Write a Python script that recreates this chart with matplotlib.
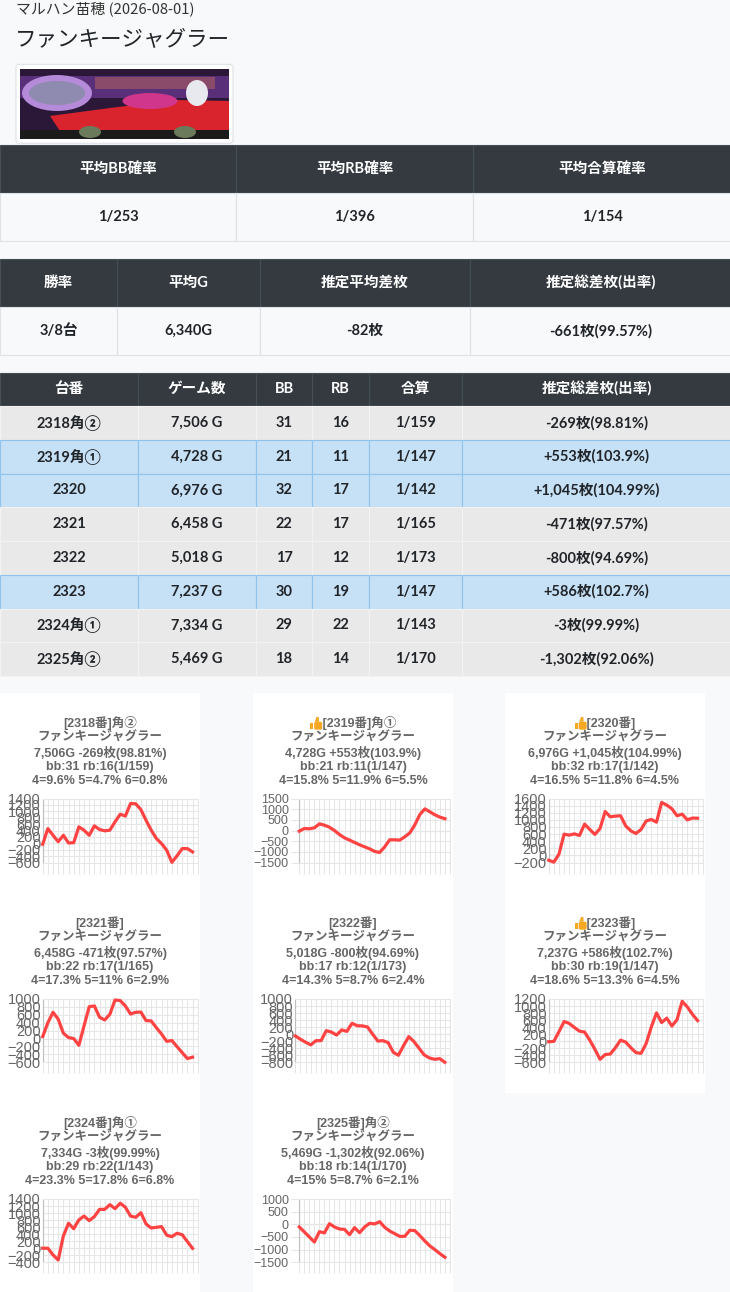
import numpy as np
import matplotlib
matplotlib.use('Agg')
import matplotlib.pyplot as plt
from matplotlib.patches import Rectangle, FancyBboxPatch, Polygon, Ellipse

W, H = 730, 1292
JP = ['Noto Sans CJK JP', 'DejaVu Sans']
TB = ['Lato', 'Noto Sans CJK JP', 'DejaVu Sans']
CH = ['Liberation Sans', 'Noto Sans CJK JP', 'DejaVu Sans']

# ---- data ----
hall_title = 'マルハン苗穂 (2026-08-01)'
machine = 'ファンキージャグラー'

sum1_head = ['平均BB確率', '平均RB確率', '平均合算確率']
sum1_vals = ['1/253', '1/396', '1/154']
sum2_head = ['勝率', '平均G', '推定平均差枚', '推定総差枚(出率)']
sum2_vals = ['3/8台', '6,340G', '-82枚', '-661枚(99.57%)']

tbl_head = ['台番', 'ゲーム数', 'BB', 'RB', '合算', '推定総差枚(出率)']
unit_no = ['2318', '2319', '2320', '2321', '2322', '2323', '2324', '2325']
corner = ['角②', '角①', '', '', '', '', '角①', '角②']
games = [7506, 4728, 6976, 6458, 5018, 7237, 7334, 5469]
bb = [31, 21, 32, 22, 17, 30, 29, 18]
rb = [16, 11, 17, 17, 12, 19, 22, 14]
combined = ['1/159', '1/147', '1/142', '1/165', '1/173', '1/147', '1/143', '1/170']
diff = [-269, 553, 1045, -471, -800, 586, -3, -1302]
payout = ['98.81', '103.9', '104.99', '97.57', '94.69', '102.7', '99.99', '92.06']
set4 = ['9.6', '15.8', '16.5', '17.3', '14.3', '18.6', '23.3', '15']
set5 = ['4.7', '11.9', '11.8', '11', '8.7', '13.3', '17.8', '8.7']
set6 = ['0.8', '5.5', '4.5', '2.9', '2.4', '4.5', '6.8', '2.1']

slump_2318 = [-30, 460, 250, 50, 250, 10, 20, 515, 410, 250, 545, 430, 390, 410, 670,
              910, 850, 1245, 1235, 1055, 720, 410, 150, -10, -215, -595, -390, -165, -165, -269]
slump_2319 = [-30, 95, 80, 125, 310, 250, 155, 0, -190, -345, -450, -560, -670, -765, -860,
              -980, -1030, -765, -435, -435, -450, -295, -110, 265, 750, 1015, 875, 735, 625, 553]
slump_2320 = [-135, -190, 35, 597, 570, 605, 560, 880, 730, 590, 755, 1235, 1085, 1105, 1115,
              830, 690, 615, 730, 970, 1010, 935, 1490, 1415, 1310, 1115, 1160, 1000, 1050, 1045]
slump_2321 = [50, 400, 665, 490, 135, 25, 0, -170, 320, 805, 825, 540, 470, 615, 975,
              960, 825, 620, 665, 670, 455, 445, 275, 115, -70, -50, -205, -355, -505, -471]
slump_2322 = [-50, -145, -230, -305, -185, -185, 100, 60, -25, 120, 80, 310, 240, 235, 205,
              0, -195, -185, -240, -515, -600, -325, -70, -210, -400, -590, -675, -715, -695, -800]
slump_2323 = [-15, -5, 270, 560, 505, 390, 285, 260, 30, -230, -515, -380, -365, -185, 30,
              -25, -185, -325, -345, -60, 410, 805, 530, 655, 430, 615, 1135, 975, 765, 586]
slump_2324 = [0, 0, -190, -335, 350, 710, 555, 805, 915, 785, 900, 1105, 1105, 1240, 1125,
              1280, 1165, 915, 880, 1010, 690, 575, 595, 615, 370, 330, 425, 385, 190, -3]
slump_2325 = [-105, -300, -500, -700, -290, -340, 25, -105, -185, -200, -410, -130, -330, -105, 40,
              15, 105, -120, -265, -370, -475, -475, -235, -250, -445, -660, -855, -1000, -1160, -1302]
slumps = [slump_2318, slump_2319, slump_2320, slump_2321, slump_2322, slump_2323, slump_2324, slump_2325]
n_slots = 31

y_min = [-600, -1500, -200, -600, -800, -600, -400, -1500]
y_max = [1400, 1500, 1600, 1000, 1000, 1200, 1400, 1000]
y_step = [200, 500, 200, 200, 200, 200, 200, 500]

# ---- layout (pixels) ----
panel_x = [0, 253, 505]
panel_y = [693, 893, 1093]
title_cx = [100, 353, 605]
plot_left = [42.7, 299.3, 548.7, 42.7, 295.3, 548.7, 42.7, 299.3]
plot_right = [197.7, 450, 702.7]
plot_top = [798.5, 999, 1199]
plot_bot = [862.5, 1062.3, 1262.3]

fig = plt.figure(figsize=(W / 100, H / 100), dpi=100, facecolor='#f8f9fa')
ax_bg = fig.add_axes([0, 0, 1, 1])
ax_bg.set_xlim(0, W)
ax_bg.set_ylim(H, 0)
ax_bg.axis('off')

# header texts
ax_bg.text(15.5, 8.5, hall_title, fontsize=10.7, color='#333333', va='center', ha='left', family=JP)
ax_bg.text(15, 39.5, machine, fontsize=15.5, color='#212529', va='center', ha='left', family=JP)

# banner image (rough approximation)
ax_bg.add_patch(FancyBboxPatch((16, 64.3), 217, 79, boxstyle='round,pad=0,rounding_size=3',
                               fc='white', ec='#dee2e6', lw=0.8))
ax_bg.add_patch(Rectangle((20, 69), 209, 70, fc='#2b1838', ec='none'))
ax_bg.add_patch(Rectangle((20, 76), 209, 22, fc='#5a2f7a', ec='none'))
ax_bg.add_patch(Rectangle((95, 77), 120, 12, fc='#8a4a6a', ec='none'))
ax_bg.add_patch(Ellipse((57, 93), 70, 36, fc='#b58ad8', ec='none'))
ax_bg.add_patch(Ellipse((57, 93), 56, 24, fc='#8e8ab0', ec='none'))
ax_bg.add_patch(Polygon([[50, 116], [110, 108], [175, 100], [229, 101], [229, 130], [60, 131]],
                        fc='#d9232d', ec='none'))
ax_bg.add_patch(Ellipse((150, 101), 55, 16, fc='#d0368c', ec='none'))
ax_bg.add_patch(Ellipse((197, 93), 22, 26, fc='#e8e8ef', ec='none'))
ax_bg.add_patch(Rectangle((20, 130), 209, 9, fc='#1b1b1b', ec='none'))
ax_bg.add_patch(Ellipse((90, 132), 22, 12, fc='#6b7a5a', ec='none'))
ax_bg.add_patch(Ellipse((185, 132), 22, 12, fc='#6b7a5a', ec='none'))


def table_row(y0, y1, edges, texts, fc, ec, tc, weight='bold'):
    for i, t in enumerate(texts):
        xa, xb = edges[i], edges[i + 1]
        ax_bg.add_patch(Rectangle((xa, y0), xb - xa, y1 - y0, fc=fc, ec=ec, lw=0.8))
        ax_bg.text((xa + xb) / 2, (y0 + y1) / 2, t, ha='center', va='center', fontsize=10.5,
                   color=tc, fontweight=weight, family=TB)


HEAD_BG, HEAD_EC = '#343a40', '#454d55'
table_row(144.5, 193, [0, 236.3, 473, 731], sum1_head, HEAD_BG, HEAD_EC, 'white')
table_row(193, 241, [0, 236.3, 473, 731], sum1_vals, '#f8f9fa', '#dee2e6', '#212529')
e2 = [0, 117.3, 260, 470, 731]
table_row(258.5, 307, e2, sum2_head, HEAD_BG, HEAD_EC, 'white')
table_row(307, 355, e2, sum2_vals, '#f8f9fa', '#dee2e6', '#212529')

e3 = [0, 138.3, 255.7, 312.3, 369.3, 462.3, 731]
table_row(372.5, 406, e3, tbl_head, HEAD_BG, HEAD_EC, 'white')
rh = 33.75
for i in range(len(unit_no)):
    cells = [unit_no[i] + corner[i], f'{games[i]:,} G', str(bb[i]), str(rb[i]), combined[i],
             f'{diff[i]:+,}枚({payout[i]}%)']
    if diff[i] > 0:
        fc, ec = '#c6e0f5', '#8fc3ee'
    else:
        fc, ec = '#e9e9e9', '#f3f3f3'
    y0 = 406 + i * rh
    table_row(y0, y0 + rh, e3, cells, fc, ec, '#212529')

# ---- slump charts ----
GRID, ZERO = '#e6e6e6', '#bfbfbf'
thumb_texts = []
for k in range(8):
    r, c = divmod(k, 3)
    px, py = panel_x[c], panel_y[r]
    ax_bg.add_patch(Rectangle((px, py), 200, 200, fc='white', ec='none'))

    lines = [('\u3000' if diff[k] > 0 else '') + f'[{unit_no[k]}番]{corner[k]}',
             machine,
             f'{games[k]:,}G {diff[k]:+,}枚({payout[k]}%)',
             f'bb:{bb[k]} rb:{rb[k]}({combined[k]})',
             f'4={set4[k]}% 5={set5[k]}% 6={set6[k]}%']
    for j, s in enumerate(lines):
        t = ax_bg.text(title_cx[c], py + 30.5 + j * 14.5, s, ha='center', va='center', fontsize=9,
                       fontweight='bold', color='#666666', family=CH)
        if j == 0 and diff[k] > 0:
            thumb_texts.append(t)

    x0, x1 = plot_left[k], plot_right[c]
    y0, y1 = plot_top[r], plot_bot[r]
    ax = fig.add_axes([x0 / W, 1 - y1 / H, (x1 - x0) / W, (y1 - y0) / H])
    ax.set_facecolor('white')
    vals = slumps[k]
    ax.plot(np.arange(len(vals)), vals, color='#ff4242', lw=2.3, zorder=5, clip_on=False)
    ax.set_xlim(0, n_slots - 1)
    ax.set_ylim(y_min[k], y_max[k])
    ax.set_xticks(np.arange(n_slots))
    ax.set_xticklabels([])
    ax.set_yticks(np.arange(y_min[k], y_max[k] + 1, y_step[k]))
    ax.grid(True, color=GRID, lw=0.75, zorder=0)
    ax.axhline(0, color=ZERO, lw=0.8, zorder=1)
    ax.axvline(0, color=ZERO, lw=0.8, zorder=1)
    for side in ['top', 'right', 'bottom']:
        ax.spines[side].set_color(GRID)
        ax.spines[side].set_linewidth(0.75)
    ax.spines['left'].set_color(ZERO)
    ax.spines['left'].set_linewidth(0.8)
    ax.tick_params(axis='x', length=7.7, width=0.75, color=GRID, direction='out')
    ax.xaxis.get_major_ticks()[0].tick1line.set_color(ZERO)
    if y_step[k] == 200:
        ax.tick_params(axis='y', length=0, pad=1.5, labelsize=10.5, labelcolor='#666666')
    else:
        ax.tick_params(axis='y', length=6, width=0.75, color=GRID, pad=1.5, labelsize=9,
                       labelcolor='#666666')
    for lab in ax.get_yticklabels():
        lab.set_family(CH)

# thumbs-up marks in front of winning units
fig.canvas.draw()
renderer = fig.canvas.get_renderer()
inv = ax_bg.transData.inverted()
for t in thumb_texts:
    bbx = t.get_window_extent(renderer)
    xl, _ = inv.transform((bbx.x0, bbx.y0))
    _, yc = t.get_position()
    col = '#f7a823'
    ax_bg.add_patch(Rectangle((xl + 0.5, yc - 1), 3, 6.5, fc=col, ec='none'))
    ax_bg.add_patch(FancyBboxPatch((xl + 4.3, yc - 1.8), 8, 8, boxstyle='round,pad=0,rounding_size=1.8',
                                   fc=col, ec='none'))
    ax_bg.add_patch(Polygon([[xl + 5, yc - 1.8], [xl + 6.5, yc - 6.5], [xl + 9, yc - 6.5], [xl + 9.2, yc - 1.8]],
                            fc=col, ec='none'))

fig.savefig('out.png', dpi=100, facecolor=fig.get_facecolor())
